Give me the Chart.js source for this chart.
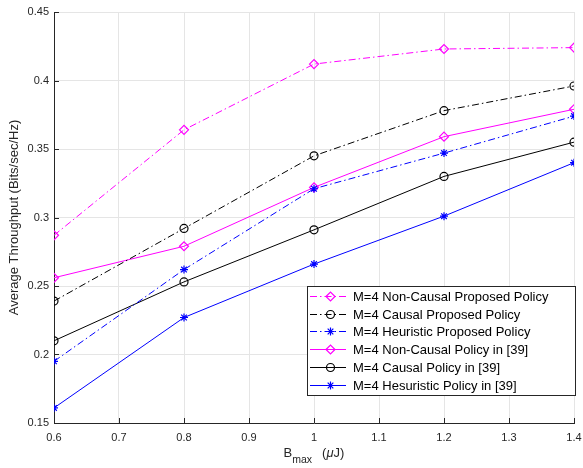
<!DOCTYPE html>
<html><head><meta charset="utf-8">
<script src="https://cdn.jsdelivr.net/npm/chart.js@4"></script>
<style>html,body{margin:0;padding:0;background:#fff}#wrap{width:583px;height:468px}</style>
</head><body><div id="wrap"><canvas id="c" width="583" height="468"></canvas></div>
<script>
const bmax = [0.6, 0.8, 1.0, 1.2, 1.4];
const nonCausalProposed = [0.287, 0.364, 0.412, 0.423, 0.424];
const causalProposed = [0.239, 0.292, 0.345, 0.378, 0.396];
const heuristicProposed = [0.195, 0.262, 0.321, 0.347, 0.374];
const nonCausalRef = [0.256, 0.279, 0.322, 0.359, 0.379];
const causalRef = [0.210, 0.253, 0.291, 0.330, 0.355];
const heuristicRef = [0.161, 0.227, 0.266, 0.301, 0.340];
const seriesLabels = [
  'M=4 Non-Causal Proposed Policy',
  'M=4 Causal Proposed Policy',
  'M=4 Heuristic Proposed Policy',
  'M=4 Non-Causal Policy in [39]',
  'M=4 Causal Policy in [39]',
  'M=4 Hesuristic Policy in [39]'
];
const yTicks = [0.15, 0.2, 0.25, 0.3, 0.35, 0.4, 0.45];
const xTicks = [0.6, 0.7, 0.8, 0.9, 1, 1.1, 1.2, 1.3, 1.4];

const DASHDOT = [7, 3, 1.5, 3];
const FONT = '"Liberation Sans", Arial, sans-serif';
const series = [
  {v: nonCausalProposed, c: '#ff00ff', m: 'rectRot', d: DASHDOT, r: 4.5},
  {v: causalProposed, c: '#000000', m: 'circle', d: DASHDOT, r: 4},
  {v: heuristicProposed, c: '#0000ff', m: 'star', d: DASHDOT, r: 4},
  {v: nonCausalRef, c: '#ff00ff', m: 'rectRot', d: [], r: 4.5},
  {v: causalRef, c: '#000000', m: 'circle', d: [], r: 4},
  {v: heuristicRef, c: '#0000ff', m: 'star', d: [], r: 4}
];
const datasets = series.map((s, i) => ({
  label: seriesLabels[i],
  data: bmax.map((x, j) => ({x: x, y: s.v[j]})),
  showLine: true,
  borderColor: s.c,
  backgroundColor: 'rgba(0,0,0,0)',
  borderWidth: 1,
  borderDash: s.d,
  pointStyle: s.m,
  pointRadius: s.r,
  pointBorderColor: s.c,
  pointBackgroundColor: 'rgba(0,0,0,0)',
  pointBorderWidth: 1.2,
  tension: 0
}));

const decor = {
  id: 'decor',
  afterDatasetsDraw(chart) {
    const ctx = chart.ctx, ca = chart.chartArea;
    const xs = chart.scales.x, ys = chart.scales.y;
    ctx.save();
    // inward ticks
    ctx.strokeStyle = '#262626'; ctx.lineWidth = 1;
    xTicks.forEach(t => {
      const px = Math.round(xs.getPixelForValue(t)) + 0.5;
      ctx.beginPath(); ctx.moveTo(px, ca.bottom); ctx.lineTo(px, ca.bottom - 5); ctx.stroke();
    });
    yTicks.forEach(t => {
      const py = Math.round(ys.getPixelForValue(t)) + 0.5;
      ctx.beginPath(); ctx.moveTo(ca.left, py); ctx.lineTo(ca.left + 5, py); ctx.stroke();
    });
    // legend
    const L = 307, T = 286, W = 268, H = 109;
    ctx.fillStyle = '#fff'; ctx.fillRect(L, T, W, H);
    ctx.strokeStyle = '#262626'; ctx.lineWidth = 1;
    ctx.strokeRect(L + 0.5, T + 0.5, W, H);
    ctx.font = '13px ' + FONT;
    ctx.textBaseline = 'middle'; ctx.textAlign = 'left';
    chart.data.datasets.forEach((ds, i) => {
      const y = Math.round(296 + i * 17.7) + 0.5;
      ctx.save();
      ctx.strokeStyle = ds.borderColor; ctx.lineWidth = 1;
      ctx.fillStyle = 'rgba(0,0,0,0)';
      ctx.setLineDash(ds.borderDash);
      ctx.beginPath(); ctx.moveTo(310, y); ctx.lineTo(346, y); ctx.stroke();
      ctx.setLineDash([]);
      ctx.lineWidth = 1.2;
      Chart.helpers.drawPoint(ctx, {pointStyle: ds.pointStyle, radius: ds.pointRadius, borderWidth: 1.2, rotation: 0}, 330.5, y);
      ctx.restore();
      ctx.fillStyle = '#000';
      ctx.fillText(ds.label, 353, y + 0.5);
    });
    // x title with subscript
    ctx.fillStyle = '#262626';
    ctx.textBaseline = 'alphabetic';
    const cx = (ca.left + ca.right) / 2;
    const parts = [
      {t: 'B', f: '13px ' + FONT, dy: 0, g: 0},
      {t: 'max', f: '10.5px ' + FONT, dy: 6, g: 0},
      {t: '(', f: '13px ' + FONT, dy: 0, g: 10},
      {t: '\u03bc', f: 'italic 13px ' + FONT, dy: 0, g: 0},
      {t: 'J)', f: '13px ' + FONT, dy: 0, g: 0}
    ];
    let total = 0;
    parts.forEach(p => { ctx.font = p.f; p.w = ctx.measureText(p.t).width; total += p.w + p.g; });
    let x = cx - total / 2;
    parts.forEach(p => { ctx.font = p.f; x += p.g; ctx.fillText(p.t, x, 457 + p.dy); x += p.w; });
    ctx.restore();
  }
};

new Chart(document.getElementById('c'), {
  type: 'scatter',
  data: {datasets},
  options: {
    responsive: false,
    animation: false,
    layout: {padding: {top: 12, right: 9, left: 0, bottom: 0}},
    plugins: {legend: {display: false}, tooltip: {enabled: false}},
    scales: {
      x: {
        type: 'linear', min: 0.6, max: 1.4,
        afterBuildTicks: s => { s.ticks = xTicks.map(v => ({value: v})); },
        afterFit: s => { s.height = 45; s.paddingLeft = 0; s.paddingRight = 0; },
        grid: {color: '#e5e5e5', lineWidth: 1, drawTicks: false},
        border: {color: '#262626', width: 1},
        ticks: {color: '#262626', font: {family: FONT, size: 11}, padding: 8, maxRotation: 0,
          callback: v => String(Number(v.toFixed(2)))}
      },
      y: {
        type: 'linear', min: 0.15, max: 0.45,
        afterBuildTicks: s => { s.ticks = yTicks.map(v => ({value: v})); },
        afterFit: s => { s.width = 54; s.paddingTop = 0; s.paddingBottom = 0; },
        grid: {color: '#e5e5e5', lineWidth: 1, drawTicks: false},
        border: {color: '#262626', width: 1},
        ticks: {color: '#262626', font: {family: FONT, size: 11}, padding: 5,
          callback: v => String(Number(v.toFixed(2)))},
        title: {display: true, text: 'Average Throughput (Bits/sec/Hz)', color: '#262626',
          font: {family: FONT, size: 13}, padding: {top: 7, bottom: 0}}
      }
    }
  },
  plugins: [decor]
});
</script></body></html>
